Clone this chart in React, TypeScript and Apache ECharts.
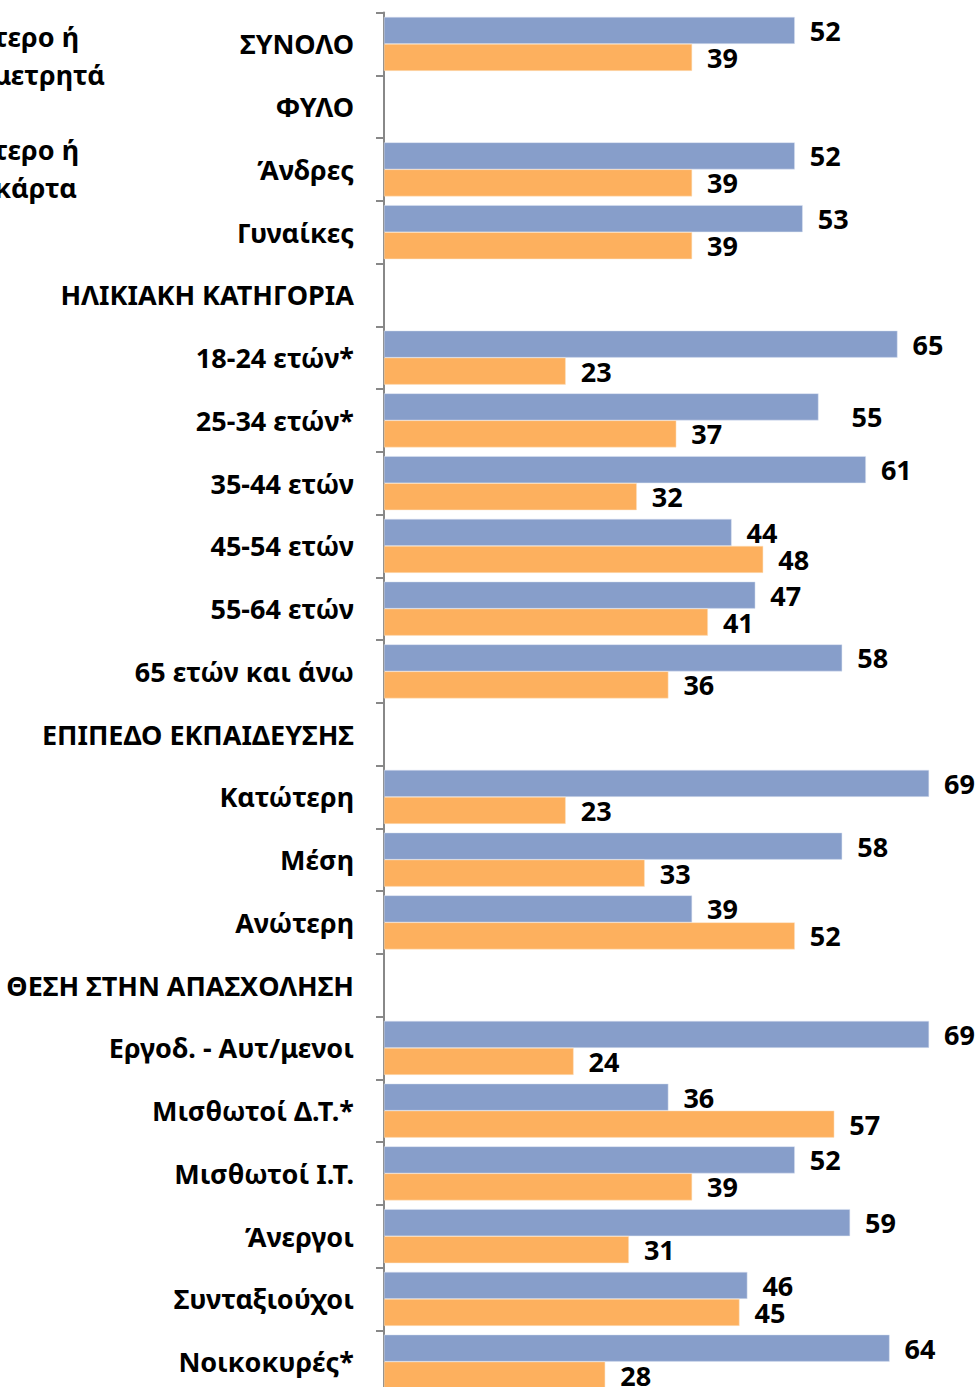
import React, { useEffect, useRef } from "react";
import * as echarts from "echarts";

const categories = [
  "ΣΥΝΟΛΟ",
  "ΦΥΛΟ",
  "Άνδρες",
  "Γυναίκες",
  "ΗΛΙΚΙΑΚΗ ΚΑΤΗΓΟΡΙΑ",
  "18-24 ετών*",
  "25-34 ετών*",
  "35-44 ετών",
  "45-54 ετών",
  "55-64 ετών",
  "65 ετών και άνω",
  "ΕΠΙΠΕΔΟ ΕΚΠΑΙΔΕΥΣΗΣ",
  "Κατώτερη",
  "Μέση",
  "Ανώτερη",
  "ΘΕΣΗ ΣΤΗΝ ΑΠΑΣΧΟΛΗΣΗ",
  "Εργοδ. - Αυτ/μενοι",
  "Μισθωτοί Δ.Τ.*",
  "Μισθωτοί Ι.Τ.",
  "Άνεργοι",
  "Συνταξιούχοι",
  "Νοικοκυρές*",
];

const cashValues: (number | null)[] = [
  52, null, 52, 53, null, 65, 55, 61, 44, 47, 58, null, 69, 58, 39, null, 69, 36, 52, 59, 46, 64,
];
const cardValues: (number | null)[] = [
  39, null, 39, 39, null, 23, 37, 32, 48, 41, 36, null, 23, 33, 52, null, 24, 57, 39, 31, 45, 28,
];

const seriesNames = ["Συχνότερο ή πάντα μετρητά", "Συχνότερο ή πάντα κάρτα"];

const FONT = "'Noto Sans', sans-serif";

export default function App() {
  const ref = useRef<HTMLDivElement>(null);
  useEffect(() => {
    if (!ref.current) return;
    const chart = echarts.init(ref.current, undefined, { renderer: "svg" });
    const labelBase = {
      show: true,
      position: "right" as const,
      distance: 15,
      color: "#000",
      fontFamily: FONT,
      fontWeight: "bold" as const,
      fontSize: 27,
      padding: [0, 0, 2, 0],
    };
    const legendText = (x: number, y: number, text: string) => ({
      type: "text",
      x,
      y,
      style: {
        text,
        align: "right",
        verticalAlign: "middle",
        font: `bold 27px ${FONT}`,
        fill: "#000",
      },
    });
    chart.setOption({
      animation: false,
      backgroundColor: "#fff",
      grid: {
        left: 384,
        right: 2.5,
        top: 12.5,
        bottom: -6,
        outerBoundsMode: "none",
        containLabel: false,
      },
      xAxis: {
        type: "value",
        min: 0,
        max: 75,
        show: false,
      },
      yAxis: {
        type: "category",
        inverse: true,
        data: categories,
        axisLine: { show: true, lineStyle: { color: "#888", width: 2 } },
        axisTick: { show: true, length: 8, lineStyle: { color: "#888", width: 2 } },
        axisLabel: {
          margin: 30,
          color: "#000",
          fontFamily: FONT,
          fontWeight: "bold",
          fontSize: 27,
          interval: 0,
          padding: [0, 0, 4, 0],
        },
      },
      series: [
        {
          name: seriesNames[0],
          type: "bar",
          data: cashValues.map((v, i) =>
            i === 6 ? { value: v, label: { offset: [18, 10] } } : v
          ),
          barWidth: 27,
          barGap: "0%",
          itemStyle: { color: "#879ECA", borderColor: "#DDE5F2", borderWidth: 0.5 },
          label: labelBase,
        },
        {
          name: seriesNames[1],
          type: "bar",
          data: cardValues,
          barWidth: 27,
          barGap: "0%",
          itemStyle: { color: "#FDB05E", borderColor: "#FDE3C4", borderWidth: 0.5 },
          label: labelBase,
        },
      ],
      graphic: [
        legendText(79, 36, "Συχνότερο ή"),
        legendText(105, 74, "πάντα μετρητά"),
        legendText(79, 149, "Συχνότερο ή"),
        legendText(77, 187, "πάντα κάρτα"),
      ],
    });
    return () => chart.dispose();
  }, []);
  return (
    <div
      ref={ref}
      style={{ position: "absolute", left: 0, top: 0, width: 979, height: 1387 }}
    />
  );
}
